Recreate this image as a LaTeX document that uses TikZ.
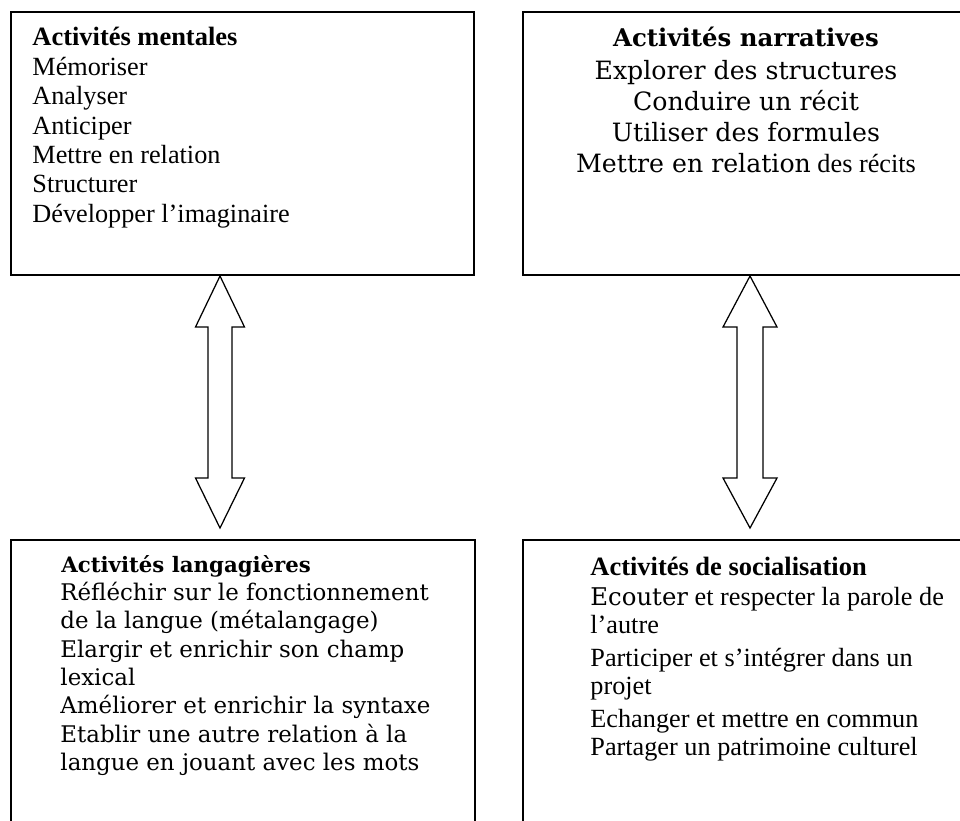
\documentclass[tikz,border=0pt]{standalone}
\usepackage{fontspec}
\setmainfont{Liberation Serif}
\newfontfamily\alt{DejaVu Serif}
\usetikzlibrary{calc}
\begin{document}
\begin{tikzpicture}[x=0.48pt,y=-0.48pt,
  box/.style={draw,line width=0.96pt,anchor=north west,inner sep=0pt},
  dbl/.style={draw,line width=0.6pt,line join=miter,fill=white},
  txt/.style={inner sep=0pt,anchor=base west},
  ctxt/.style={inner sep=0pt,anchor=base},
  tm/.style={font=\fontsize{12.6}{14}\selectfont},
  tmb/.style={font=\fontsize{12.7}{14}\selectfont\bfseries},
  dv/.style={font=\alt\fontsize{11}{13}\selectfont},
  dvb/.style={font=\alt\fontsize{10.2}{13}\selectfont\bfseries},
  dvn/.style={font=\alt\fontsize{12.1}{14}\selectfont},
  dvnb/.style={font=\alt\fontsize{11.7}{14}\selectfont\bfseries}]
\path[use as bounding box] (0,0) rectangle (960,820);
\begin{scope}
\clip (0,0) rectangle (960,820);
\node[box,minimum width=222.24pt,minimum height=126.24pt] (tl) at (10,11) {};
\node[box,minimum width=219.84pt,minimum height=126.24pt] (tr) at (522,11) {};
\node[box,minimum width=222.72pt,minimum height=149.28pt] (bl) at (10,539) {};
\node[box,minimum width=219.84pt,minimum height=149.28pt] (br) at (522,539) {};
\end{scope}
% double arrows
\coordinate (xa) at (220,0);
\coordinate (xb) at (750,0);
\coordinate (at) at (tl.south -| xa);
\coordinate (ab) at ($(bl.north -| xa)+(0,-11)$);
\coordinate (bt) at (tr.south -| xb);
\coordinate (bb) at ($(br.north -| xb)+(0,-11)$);
\draw[dbl] (at) -- ($(at)+(24.5,51)$) -- ($(at)+(12,51)$) -- ($(ab)+(12,-50)$) -- ($(ab)+(24.5,-50)$) -- (ab)
  -- ($(ab)+(-24.5,-50)$) -- ($(ab)+(-12,-50)$) -- ($(at)+(-12,51)$) -- ($(at)+(-24.5,51)$) -- cycle;
\draw[dbl] (bt) -- ($(bt)+(27,51)$) -- ($(bt)+(13,51)$) -- ($(bb)+(13,-50)$) -- ($(bb)+(27,-50)$) -- (bb)
  -- ($(bb)+(-27,-50)$) -- ($(bb)+(-13,-50)$) -- ($(bt)+(-13,51)$) -- ($(bt)+(-27,51)$) -- cycle;
% top left text
\node[txt,tmb] (m0) at (32,45.5) {Activités mentales};
\node[txt,tm] (m1) at (32,75.5) {Mémoriser};
\node[txt,tm] (m2) at (32,104.8) {Analyser};
\node[txt,tm] (m3) at (32,134.1) {Anticiper};
\node[txt,tm] (m4) at (32,163.4) {Mettre en relation};
\node[txt,tm] (m5) at (32,192.7) {Structurer};
\node[txt,tm] (m6) at (32,222) {Développer l’imaginaire};
% top right text
\node[ctxt,dvnb] (n0) at (746,46.7) {Activités narratives};
\node[ctxt,dvn] (n1) at (746,79) {Explorer des structures};
\node[ctxt,dvn] (n2) at (746,110) {Conduire un récit};
\node[ctxt,dvn] (n3) at (746,141) {Utiliser des formules};
\node[ctxt,dvn] (n4) at (746,172) {Mettre en relation{\rmfamily\fontsize{12.6}{14}\selectfont{} des récits}};
% bottom left text
\node[txt,dvb] (l0) at (61,572) {Activités langagières};
\node[txt,dv] (l1) at (60,600.5) {Réfléchir sur le fonctionnement};
\node[txt,dv] (l2) at (60,628.8) {de la langue (métalangage)};
\node[txt,dv] (l3) at (60,657.1) {Elargir et enrichir son champ};
\node[txt,dv] (l4) at (60,685.4) {lexical};
\node[txt,dv] (l5) at (60,713.7) {Améliorer et enrichir la syntaxe};
\node[txt,dv] (l6) at (60,742) {Etablir une autre relation à la};
\node[txt,dv] (l7) at (60,770.3) {langue en jouant avec les mots};
% bottom right text
\node[txt,tmb] (s0) at (590,575) {Activités de socialisation};
\node[txt,tm] (s1) at (590,605) {{\alt\fontsize{11.7}{14}\selectfont Ecouter} et respecter la parole de};
\node[txt,tm] (s2) at (590,633) {l’autre};
\node[txt,tm] (s3) at (590,666) {Participer et s’intégrer dans un};
\node[txt,tm] (s4) at (590,694) {projet};
\node[txt,tm] (s5) at (590,727) {Echanger et mettre en commun};
\node[txt,tm] (s6) at (590,755) {Partager un patrimoine culturel};
\end{tikzpicture}
\end{document}
